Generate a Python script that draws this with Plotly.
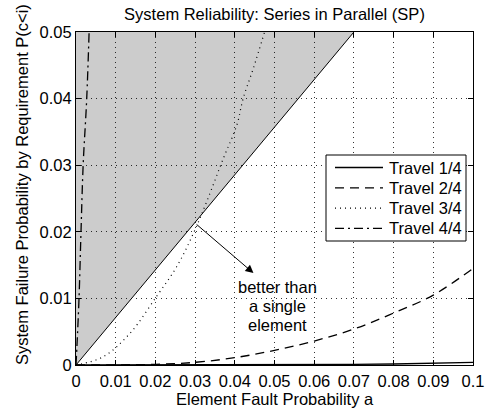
import plotly.graph_objects as go

# ---- data ----
a_t1 = [0, 0.03, 0.05, 0.07, 0.08, 0.09, 0.1]
p_t1 = [0, 0.000005, 0.00003, 0.0001, 0.00015, 0.00025, 0.0004]

a_t2 = [0, 0.01, 0.02, 0.03, 0.04, 0.05, 0.06, 0.07, 0.08, 0.09, 0.1]
p_t2 = [0, 0.00002, 0.0001, 0.0004, 0.0011, 0.0022, 0.0036, 0.0054, 0.0078, 0.0105, 0.0145]

a_t3 = [0, 0.0069, 0.0136, 0.0203, 0.0254, 0.0296, 0.0329, 0.0371, 0.0405, 0.0421, 0.0447, 0.0475]
p_t3 = [0, 0.00125, 0.00476, 0.0103, 0.0148, 0.0198, 0.0245, 0.031, 0.036, 0.040, 0.0446, 0.05]

a_t4 = [0, 0.00025, 0.00076, 0.00126, 0.0018, 0.0027, 0.0033]
p_t4 = [0, 0.003, 0.01, 0.02, 0.03, 0.04, 0.05]

# single-element boundary (edge of the shaded region)
a_single = [0, 0.07]
p_single = [0, 0.05]

series_names = ["Travel 1/4", "Travel 2/4", "Travel 3/4", "Travel 4/4"]

x_ticks = [0, 0.01, 0.02, 0.03, 0.04, 0.05, 0.06, 0.07, 0.08, 0.09, 0.1]
x_labels = ["0", "0.01", "0.02", "0.03", "0.04", "0.05", "0.06", "0.07", "0.08", "0.09", "0.1"]
y_ticks = [0, 0.01, 0.02, 0.03, 0.04, 0.05]
y_labels = ["0", "0.01", "0.02", "0.03", "0.04", "0.05"]

note_lines = ["better than", "a single", "element"]

x_range = [0, 0.1]
y_range = [0, 0.05]

FONT = "Liberation Sans, Arial, Helvetica, sans-serif"
FS = 16.5

W, H = 489, 414
ML, MR, MT, MB = 76, 16, 32, 49
PW = W - ML - MR
PH = H - MT - MB


def px_x(p):
    return (p - ML) / PW


def px_y(p):
    return (H - MB - p) / PH


styles = [
    dict(color="black", width=1.3),
    dict(color="black", width=1.3, dash="9px,6px"),
    dict(color="black", width=1.2, dash="1px,4px"),
    dict(color="black", width=1.3, dash="9px,4px,2px,4px"),
]

fig = go.Figure()

# shaded region above the single-element line
shade_x = a_single + [a_single[0]]
shade_y = p_single + [y_range[1]]
fig.add_trace(go.Scatter(x=shade_x, y=shade_y, fill="toself", mode="lines",
                         fillcolor="rgba(0,0,0,0.2)", line=dict(width=0),
                         showlegend=False, hoverinfo="skip"))
fig.add_trace(go.Scatter(x=a_single, y=p_single, mode="lines",
                         line=dict(color="black", width=1), showlegend=False))

series = [(a_t1, p_t1, "linear"), (a_t2, p_t2, "spline"),
          (a_t3, p_t3, "spline"), (a_t4, p_t4, "spline")]
for (xs, ys, shp), name, st in zip(series, series_names, styles):
    fig.add_trace(go.Scatter(x=xs, y=ys, mode="lines", name=name, line_shape=shp,
                             line=st, showlegend=False))

axis_common = dict(showgrid=True, gridcolor="#333", griddash="1px,4px", gridwidth=1,
                   showline=True, linecolor="black", linewidth=1, mirror="ticks",
                   ticks="inside", ticklen=5, tickcolor="black", zeroline=False,
                   automargin=False,
                   tickfont=dict(family=FONT, size=FS, color="black"))

fig.update_xaxes(range=x_range, tickvals=x_ticks, ticktext=x_labels,
                 ticklabelstandoff=1, **axis_common)
fig.update_yaxes(range=y_range, tickvals=y_ticks, ticktext=y_labels, **axis_common)

# ---- legend box (MATLAB style) ----
shapes = [dict(type="rect", xref="paper", yref="paper", layer="above",
               x0=px_x(326), x1=px_x(466), y0=px_y(241), y1=px_y(155),
               fillcolor="white", line=dict(color="black", width=1))]
annotations = []
row_y = [167.5, 187.8, 208.2, 228.4]
for name, st, ry in zip(series_names, styles, row_y):
    shapes.append(dict(type="line", xref="paper", yref="paper", layer="above",
                       x0=px_x(335), x1=px_x(383), y0=px_y(ry), y1=px_y(ry),
                       line=dict(color=st["color"], width=st["width"],
                                 dash=st.get("dash", "solid"))))
    annotations.append(dict(x=px_x(387), y=px_y(ry), xref="paper", yref="paper",
                            text=name, showarrow=False, xanchor="left", yanchor="middle",
                            font=dict(family=FONT, size=FS, color="black")))

# arrow + note
annotations.append(dict(x=0.0447, y=0.0138, ax=0.030, ay=0.0213, xref="x", yref="y",
                        axref="x", ayref="y", showarrow=True, arrowhead=2, arrowsize=1.6,
                        arrowwidth=1, arrowcolor="black", text=""))
for line, ly in zip(note_lines, [287, 306, 325]):
    annotations.append(dict(x=0.0508, y=px_y(ly), xref="x", yref="paper", showarrow=False,
                            text=line, xanchor="center", yanchor="middle",
                            font=dict(family=FONT, size=FS, color="black")))

# axis titles
annotations.append(dict(x=px_x(22), y=px_y(185), xref="paper", yref="paper",
                        showarrow=False,
                        text="System Failure Probability by Requirement P(c<i)", textangle=-90,
                        xanchor="center", yanchor="middle",
                        font=dict(family=FONT, size=FS, color="black")))
annotations.append(dict(x=0.5, y=px_y(398.5), xref="paper", yref="paper", showarrow=False,
                        text="Element Fault Probability a", xanchor="center", yanchor="middle",
                        font=dict(family=FONT, size=FS, color="black")))

fig.update_layout(
    width=W, height=H,
    margin=dict(l=ML, r=MR, t=MT, b=MB, autoexpand=False),
    paper_bgcolor="white", plot_bgcolor="white",
    font=dict(family=FONT, size=FS, color="black"),
    title=dict(text="System Reliability: Series in Parallel (SP)", x=0.5, xref="paper",
               xanchor="center", y=1 - 14 / H, yanchor="middle",
               font=dict(family=FONT, size=FS, color="black")),
    showlegend=False,
    shapes=shapes,
    annotations=annotations,
)

fig.write_html("out.html", config={"displayModeBar": False},
               post_script="document.body.style.margin='0';document.body.style.overflow='hidden';")
